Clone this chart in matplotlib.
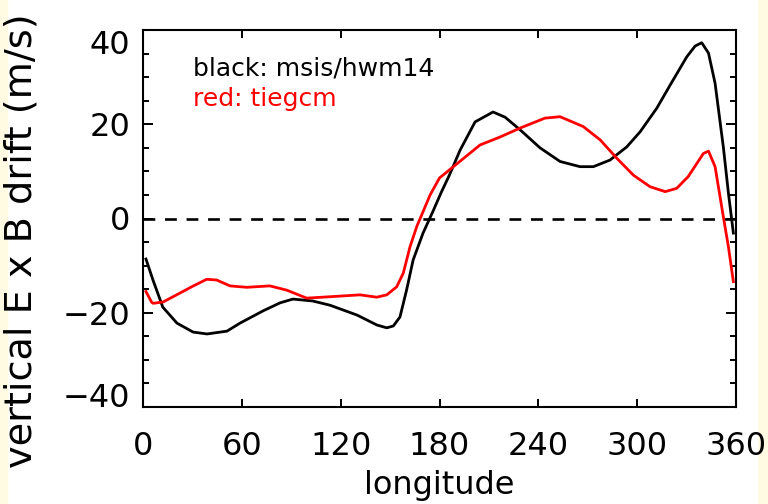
import matplotlib
matplotlib.use("Agg")
import matplotlib.pyplot as plt
from matplotlib.patches import Rectangle

# msis/hwm14 (black)
lon_black = [1.8, 6, 12, 20.6, 30.4, 38.9, 51, 58.9, 72.9, 83.2, 91, 103, 113.5, 130,
             142, 148, 152, 156, 160, 164, 170, 176, 181, 186, 192.5, 201.6, 212.5,
             219.8, 229, 241, 253.2, 265.3, 273.4, 283.5, 293.7, 301.8, 311.9, 320,
             330.1, 335.2, 339.2, 343.3, 347.3, 352.3, 355.4, 358.4]
drift_black = [-8.6, -13, -18.8, -22.2, -24.1, -24.5, -23.9, -22.2, -19.6, -17.9, -17.1,
               -17.5, -18.4, -20.5, -22.6, -23.2, -22.8, -20.9, -15.2, -8.8, -3.1, 1.5,
               5.5, 9.2, 14.5, 20.5, 22.6, 21.5, 18.8, 15.0, 12.1, 11.0, 11.0, 12.4,
               15.2, 18.4, 23.4, 28.3, 34.3, 36.6, 37.3, 35.1, 28.7, 15.2, 5.4, -3.1]

# tiegcm (red)
lon_red = [1.8, 5.3, 6.3, 12.3, 20.4, 30.6, 38.7, 44.7, 52.8, 63, 77, 87.2, 99.4, 113.5,
           131.8, 141.9, 148, 154, 158, 162.1, 166.2, 174.3, 180, 204.6, 216.8, 229,
           244, 253.2, 267.3, 277.5, 287.6, 297.7, 307.8, 317, 324, 331, 340.2, 343.3,
           347.3, 352.3, 355.4, 358.4]
drift_red = [-15.5, -17.8, -18.0, -17.7, -16.2, -14.3, -12.9, -13.05, -14.3, -14.6, -14.3,
             -15.2, -16.9, -16.6, -16.2, -16.7, -16.2, -14.5, -11.6, -6.0, -1.7, 5.0, 8.6,
             15.6, 17.3, 19.2, 21.3, 21.6, 19.5, 16.7, 12.8, 9.2, 6.75, 5.7, 6.4, 8.9,
             13.8, 14.3, 11.0, 0.4, -6.0, -13.4]

xticks = [0, 60, 120, 180, 240, 300, 360]
yticks = [-40, -20, 0, 20, 40]

plt.rcParams['font.family'] = ['DejaVu Sans']
plt.rcParams['lines.scale_dashes'] = False

fig = plt.figure(figsize=(7.68, 5.04), dpi=100, facecolor='white')
ax = fig.add_axes([143/768, 1 - 407/504, 593/768, 377/504])

# cream edge strips
fig.patches.append(Rectangle((0, 0), 7/768, 1, transform=fig.transFigure,
                             color='#fffbe3', zorder=-10))
fig.patches.append(Rectangle((758/768, 0), 10/768, 1, transform=fig.transFigure,
                             color='#fffbe3', zorder=-10))

ax.plot([0, 360], [0, 0], color='black', lw=1.9, dashes=(8.5, 7))
ax.plot(lon_black, drift_black, color='black', lw=2.0)
ax.plot(lon_red, drift_red, color='#ff0000', lw=2.0)

ax.set_xlim(0, 360)
ax.set_ylim(-40, 40)
ax.set_xticks(xticks)
ax.set_yticks(yticks)
ax.set_yticks(range(-40, 41, 5), minor=True)
ax.tick_params(axis='both', which='both', direction='in', top=True, right=True,
               labelsize=23, width=1.4)
ax.tick_params(axis='x', which='major', length=6, pad=17)
ax.tick_params(axis='y', which='major', length=7, pad=9)
ax.tick_params(axis='y', which='minor', length=4)
ax.tick_params(axis='x', which='minor', length=0)
for s in ax.spines.values():
    s.set_linewidth(1.5)

ylabels = ax.get_yticklabels()
ylabels[-1].set_verticalalignment('top')
ylabels[0].set_verticalalignment('baseline')

ax.set_xlabel('longitude', fontsize=23, labelpad=6)
ax.set_ylabel('vertical E x B drift (m/s)', fontsize=27.5)
ax.yaxis.set_label_coords(-0.174, 0.44)

ax.text(0.084, 0.899, 'black: msis/hwm14', transform=ax.transAxes, fontsize=18,
        color='black', va='center', ha='left')
ax.text(0.084, 0.817, 'red: tiegcm', transform=ax.transAxes, fontsize=18,
        color='#ff0000', va='center', ha='left')

fig.savefig('out.png', dpi=100, facecolor=fig.get_facecolor())
